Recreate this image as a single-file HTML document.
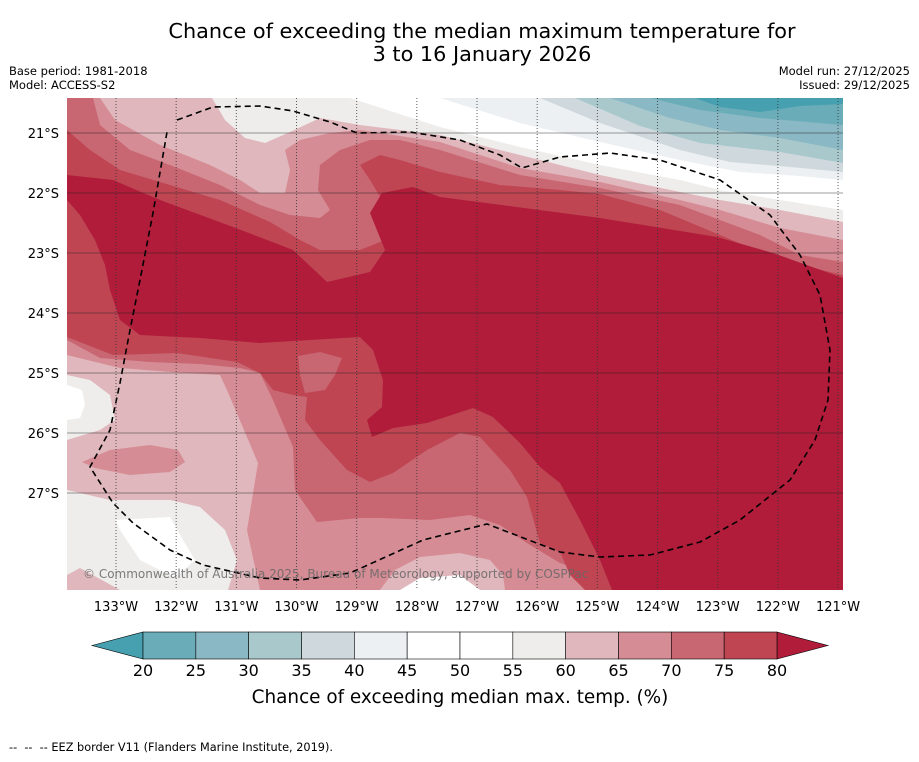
<!DOCTYPE html>
<html><head><meta charset="utf-8">
<style>
html,body{margin:0;padding:0;background:#fff;}
body{width:919px;height:758px;overflow:hidden;font-family:"DejaVu Sans","Liberation Sans",sans-serif;}
svg text{font-family:"DejaVu Sans","Liberation Sans",sans-serif;}
</style></head>
<body>
<svg id="chart" width="919" height="758" viewBox="0 0 919 758" xmlns="http://www.w3.org/2000/svg">
  <text x="482" y="38" font-size="20.8" text-anchor="middle" fill="#000">Chance of exceeding the median maximum temperature for</text>
  <text x="482" y="61" font-size="20.8" text-anchor="middle" fill="#000">3 to 16 January 2026</text>
  <text x="9" y="75" font-size="11.5" fill="#000">Base period: 1981-2018</text>
  <text x="9" y="89" font-size="11.5" fill="#000">Model: ACCESS-S2</text>
  <text x="910" y="75" font-size="11.5" text-anchor="end" fill="#000">Model run: 27/12/2025</text>
  <text x="910" y="89" font-size="11.5" text-anchor="end" fill="#000">Issued: 29/12/2025</text>
  <defs><clipPath id="mapclip"><rect x="67" y="98" width="776" height="492"/></clipPath></defs>
  <g id="map" clip-path="url(#mapclip)"></g>
  <g id="axes"></g>
  <g id="cbar"></g>
  <text x="460" y="703" font-size="18.4" text-anchor="middle" fill="#000">Chance of exceeding median max. temp. (%)</text>
  <text x="9" y="751" font-size="11.3" fill="#000" xml:space="preserve">--  --  -- EEZ border V11 (Flanders Marine Institute, 2019).</text>
</svg>
<script>
// ---- data ----
const levels = [20,25,30,35,40,45,50,55,60,65,70,75,80];
const binColors = ["#6aacb8","#8ab8c4","#a8c8cc","#cfd9dd","#ecf0f2","#ffffff","#ffffff","#eeedeb","#e0b7bc","#d58c95","#c86672","#bf4553"];
const underColor = "#46a0b0";
const overColor = "#b01c39";
const lonTicks = [-133,-132,-131,-130,-129,-128,-127,-126,-125,-124,-123,-122,-121];
const lonLabels = ["133°W","132°W","131°W","130°W","129°W","128°W","127°W","126°W","125°W","124°W","123°W","122°W","121°W"];
const latTicks = [-21,-22,-23,-24,-25,-26,-27];
const latLabels = ["21°S","22°S","23°S","24°S","25°S","26°S","27°S"];

// digitized contour regions (pixel space of the map) drawn in order
const regions = [
 {c:"#e0b7bc", p:[[67,98],[843,98],[843,590],[67,590]]},
 {c:"#d58c95", p:[[67,98],[100,98],[115,120],[160,145],[210,165],[240,180],[260,193],[285,193],[290,170],[285,150],[300,140],[330,133],[360,130],[440,142],[520,168],[600,182],[680,200],[720,210],[780,228],[843,240],[843,590],[505,590],[503,575],[490,560],[460,553],[420,557],[395,570],[380,590],[260,590],[247,530],[258,463],[227,390],[220,375],[170,372],[120,368],[67,355]]},
 {c:"#d58c95", p:[[82,462],[110,450],[150,445],[178,450],[185,462],[170,472],[130,475],[95,468]]},
 {c:"#c86672", p:[[67,98],[93,98],[100,125],[130,150],[170,165],[220,185],[260,205],[290,215],[320,218],[330,210],[318,190],[320,165],[340,150],[370,140],[400,140],[440,150],[520,175],[600,188],[680,205],[720,220],[760,235],[800,255],[843,262],[843,590],[600,590],[580,570],[560,563],[527,543],[500,525],[470,515],[430,520],[380,518],[360,518],[317,522],[295,490],[293,447],[273,400],[260,373],[240,368],[200,364],[150,362],[100,358],[67,340]]},
 {c:"#bf4553", p:[[67,130],[90,150],[120,170],[170,185],[220,200],[270,222],[300,240],[320,250],[360,250],[385,240],[385,205],[370,180],[360,165],[380,155],[400,160],[440,172],[500,185],[560,190],[600,194],[660,210],[720,235],[760,252],[800,265],[843,275],[843,590],[585,590],[570,575],[560,552],[540,543],[527,497],[510,470],[480,437],[460,433],[427,450],[393,473],[370,482],[347,470],[320,440],[305,420],[307,397],[293,395],[273,390],[260,373],[237,362],[177,353],[113,355],[67,337]]},
 {c:"#c86672", p:[[298,356],[320,352],[342,358],[335,375],[325,390],[305,393],[300,375]]},
 {c:"#b01c39", p:[[67,175],[113,180],[160,200],[233,227],[293,250],[327,282],[370,272],[385,250],[370,213],[382,193],[413,187],[440,197],[600,218],[717,237],[773,253],[843,278],[843,590],[612,590],[600,560],[580,520],[560,483],[540,467],[520,443],[493,417],[473,408],[427,423],[393,428],[372,437],[367,420],[382,407],[383,380],[373,350],[360,337],[260,343],[200,338],[140,335],[120,320],[110,290],[105,265],[95,240],[80,215],[67,200]]},
 {c:"#eeedeb", p:[[67,375],[90,380],[110,395],[115,420],[100,430],[67,440]]},
 {c:"#ffffff", p:[[67,385],[82,390],[85,405],[80,418],[67,420]]},
 {c:"#eeedeb", p:[[67,490],[110,500],[170,500],[200,507],[225,530],[237,560],[228,590],[120,590],[80,568],[67,575]]},
 {c:"#ffffff", p:[[115,520],[170,517],[183,540],[195,560],[175,578],[140,560],[120,530]]},
 {c:"#ffffff", p:[[400,590],[420,578],[460,575],[480,590]]},
 {c:"#eeedeb", p:[[212,98],[225,120],[245,138],[265,143],[290,132],[320,118],[360,125],[400,130],[440,135],[520,155],[600,175],[680,192],[720,200],[780,210],[843,222],[843,98]]},
 {c:"#ffffff", p:[[350,98],[440,127],[520,147],[600,165],[680,180],[720,190],[780,200],[843,210],[843,98]]},
 {c:"#ecf0f2", p:[[440,98],[520,123],[600,142],[680,160],[740,172],[800,176],[843,180],[843,98]]},
 {c:"#cfd9dd", p:[[540,98],[600,123],[680,150],[730,162],[790,167],[843,172],[843,98]]},
 {c:"#a8c8cc", p:[[575,98],[640,126],[700,143],[780,152],[843,163],[843,98]]},
 {c:"#8ab8c4", p:[[610,98],[670,118],[720,130],[780,138],[843,150],[843,98]]},
 {c:"#6aacb8", p:[[650,98],[700,110],[760,118],[843,125],[843,98]]},
 {c:"#46a0b0", p:[[695,98],[720,107],[760,112],[800,106],[843,104],[843,98]]}
];
const eez = [[177,120],[213,107],[260,106],[293,111],[330,122],[357,133],[410,132],[460,140],[500,155],[522,168],[560,157],[610,153],[660,160],[720,180],[770,215],[800,255],[820,295],[830,350],[828,400],[815,440],[790,480],[740,520],[700,542],[650,555],[600,557],[560,552],[487,524],[423,540],[390,555],[350,573],[300,580],[260,578],[203,565],[170,550],[133,523],[113,503],[90,467],[110,430],[120,383],[130,330],[140,280],[153,213],[167,132]];

// ---- scales ----
const NS="http://www.w3.org/2000/svg";
const xLon = lon => 116 + (lon + 133) * 60.17;
const yLat = lat => 133 + (-21 - lat) * 60;
const cbX = v => 143 + (v - levels[0]) / (levels[levels.length-1] - levels[0]) * 634;
function mk(tag, attrs, parent){const e=document.createElementNS(NS,tag);for(const k in attrs)e.setAttribute(k,attrs[k]);parent.appendChild(e);return e;}

const map=document.getElementById('map');
regions.forEach((r,i)=>{
  const e=mk('polygon',{points:r.p.map(q=>q.join(',')).join(' '),fill:r.c},map);
  
  
});
const axes=document.getElementById('axes');
lonTicks.forEach((lon,i)=>{
  const x=xLon(lon);
  const l=mk('line',{x1:x,y1:98,x2:x,y2:590,stroke:'#333','stroke-width':1,'stroke-dasharray':'1,2','stroke-opacity':0.8},axes);
  
  
  const t=mk('text',{x:x,y:611,'font-size':13,'text-anchor':'middle',fill:'#000'},axes);
  t.textContent=lonLabels[i];
  
  
});
latTicks.forEach((lat,i)=>{
  const y=yLat(lat);
  const l=mk('line',{x1:67,y1:y,x2:843,y2:y,stroke:'#222','stroke-width':0.8,'stroke-opacity':0.6},axes);
  
  
  const t=mk('text',{x:59,y:y+5,'font-size':13,'text-anchor':'end',fill:'#000'},axes);
  t.textContent=latLabels[i];
  
  
});
const ez=mk('polyline',{points:eez.map(q=>q.join(',')).join(' '),fill:'none',stroke:'#000','stroke-width':1.6,'stroke-dasharray':'6,4'},map);


const cr=mk('text',{x:83,y:578,'font-size':12,fill:'#666','fill-opacity':0.85},axes);
cr.textContent='© Commonwealth of Australia 2025, Bureau of Meteorology, supported by COSPPac';



// colorbar
const cb=document.getElementById('cbar');
const y0=632,y1=659;
const lt=mk('polygon',{points:`92,${(y0+y1)/2} ${cbX(levels[0])},${y0} ${cbX(levels[0])},${y1}`,fill:underColor,stroke:'#000','stroke-width':0.6},cb);


const last=levels[levels.length-1];
const rt=mk('polygon',{points:`${cbX(last)},${y0} 828,${(y0+y1)/2} ${cbX(last)},${y1}`,fill:overColor,stroke:'#000','stroke-width':0.6},cb);


binColors.forEach((c,i)=>{
  const a=cbX(levels[i]),b=cbX(levels[i+1]);
  const r=mk('rect',{x:a,y:y0,width:b-a,height:y1-y0,fill:c,stroke:'#000','stroke-width':0.6},cb);
  
  
});
levels.forEach(v=>{
  const t=mk('text',{x:cbX(v),y:676,'font-size':16,'text-anchor':'middle',fill:'#000'},cb);
  t.textContent=v;
  
  
});
</script>
</body></html>
